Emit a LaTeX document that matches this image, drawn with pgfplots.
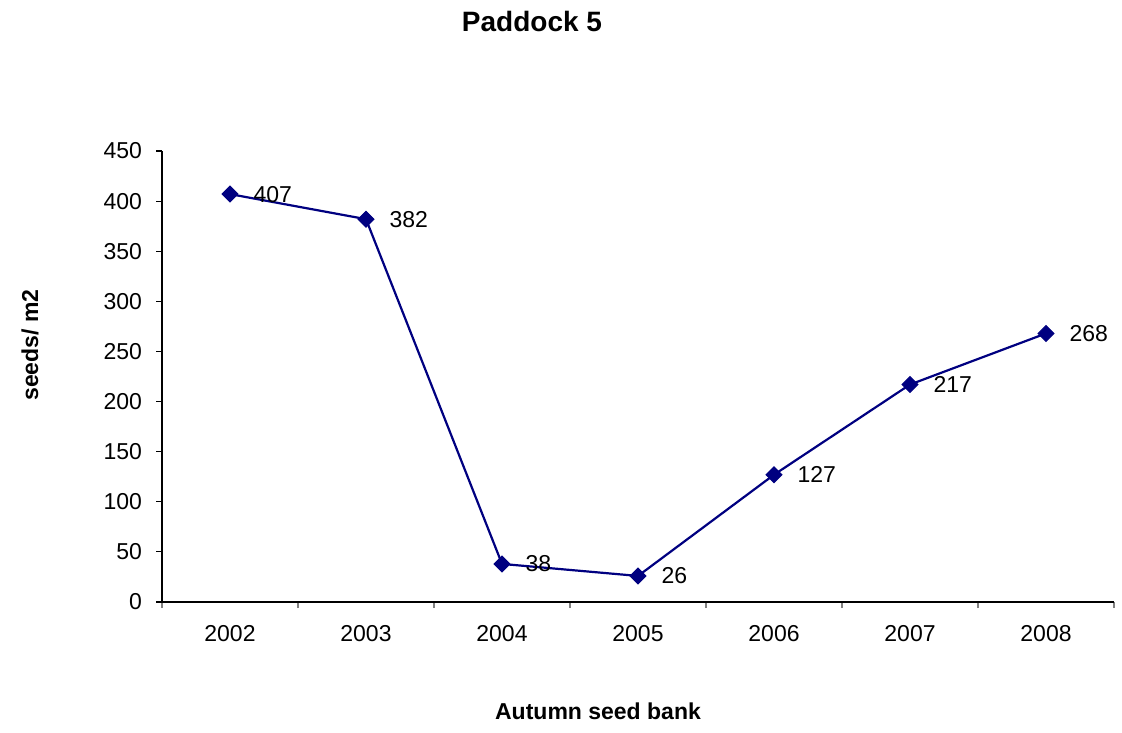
\documentclass[border=0pt]{standalone}
\usepackage{fontspec}
\setmainfont{Liberation Sans}
\usepackage{pgfplots}
\pgfplotsset{compat=1.18}
\definecolor{navyline}{RGB}{0,0,128}
\begin{document}
\begin{tikzpicture}
\path[use as bounding box] (0,0) rectangle (561pt,-366pt);
\begin{axis}[
  at={(81pt,-301pt)}, anchor=south west,
  scale only axis, width=476pt, height=225.5pt,
  xmin=-0.5, xmax=6.5, ymin=0, ymax=450,
  axis x line*=bottom, axis y line*=left,
  axis line style={-, black, line width=0.6pt},
  xtick={-0.5,0.5,...,6.5},
  xticklabels={2002,2003,2004,2005,2006,2007,2008},
  x tick label as interval,
  ytick={0,50,...,450},
  tick align=outside,
  major tick length=3pt,
  x tick style={gray, line width=0.6pt},
  y tick style={black, line width=0.6pt},
  tick label style={font=\fontsize{11.5}{13}\selectfont},
  xticklabel style={yshift=-5pt},
  yticklabel style={xshift=-3.5pt},
  /pgf/number format/assume math mode=true,
  clip=false,
  nodes near coords,
  every node near coord/.append style={anchor=west, inner sep=0pt, xshift=11.5pt, font=\fontsize{11.5}{13}\selectfont, black},
]
\addplot[navyline, line width=1.1pt, mark=square*, mark size=2.8pt, mark options={rotate=45, fill=navyline, draw=navyline, line width=0.5pt}]
coordinates {(0,407) (1,382) (2,38) (3,26) (4,127) (5,217) (6,268)};
\end{axis}
\node[font=\bfseries\fontsize{14}{16}\selectfont] at (266pt,-10.5pt) {Paddock 5};
\node[font=\bfseries\fontsize{11.5}{13}\selectfont] at (299pt,-355.5pt) {Autumn seed bank};
\node[font=\bfseries\fontsize{11.5}{13}\selectfont, rotate=90] at (15pt,-172.5pt) {seeds/ m2};
\end{tikzpicture}
\end{document}
